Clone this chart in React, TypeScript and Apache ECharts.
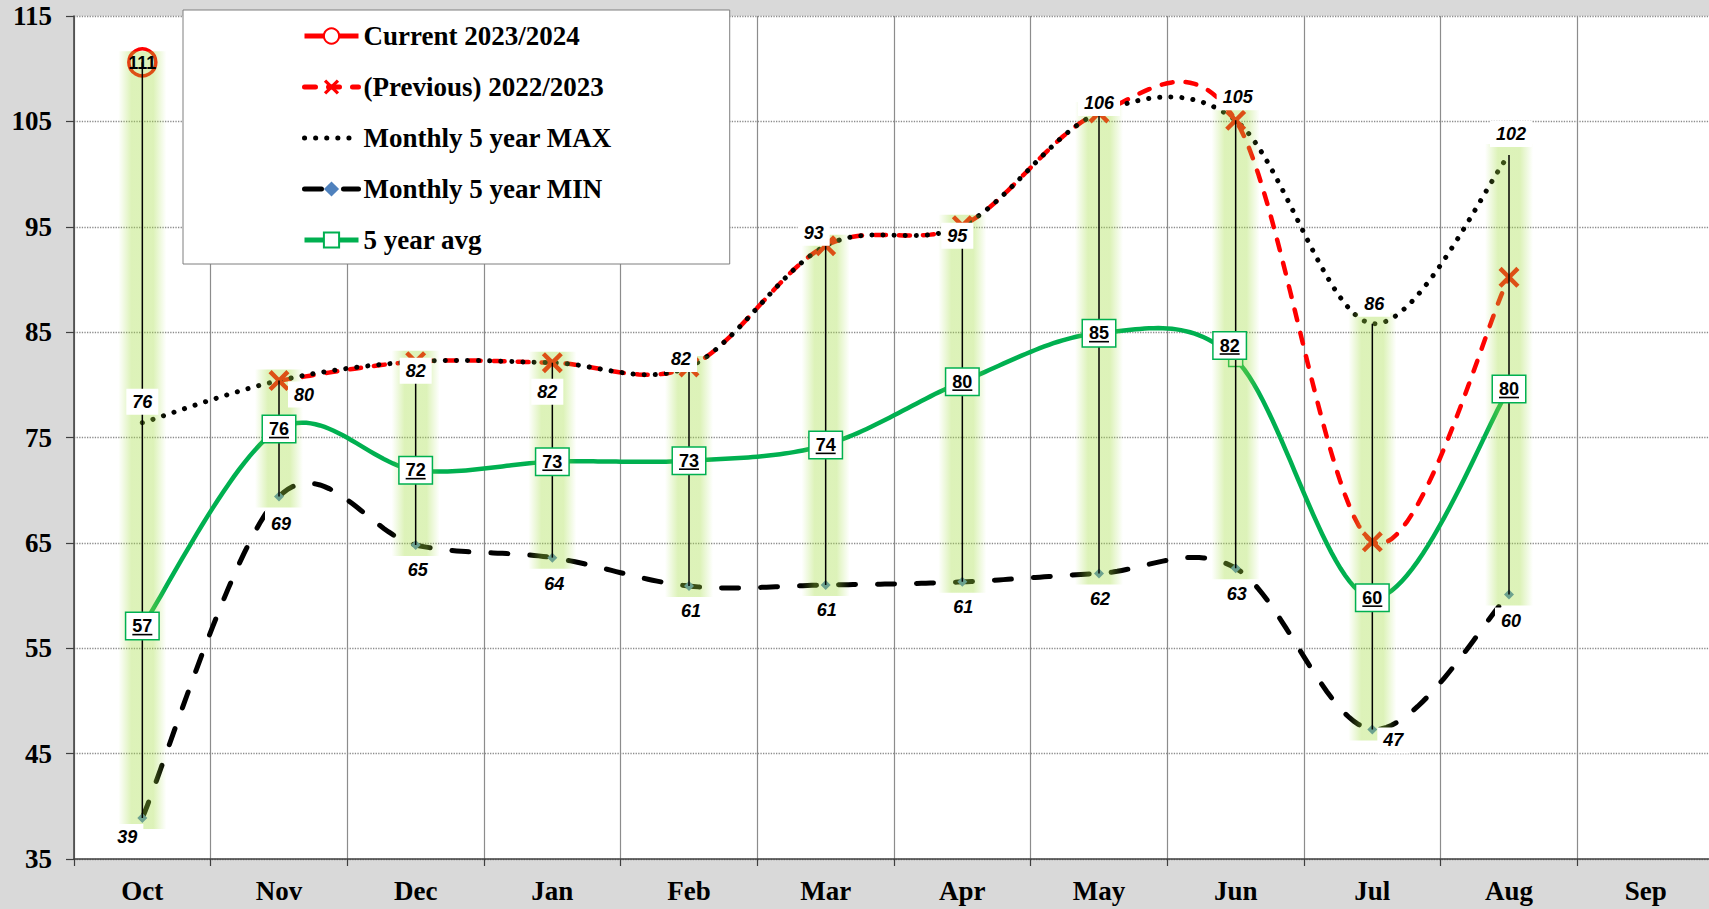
import React, { useEffect, useRef } from "react";
import * as echarts from "echarts";

const months = ["Oct", "Nov", "Dec", "Jan", "Feb", "Mar", "Apr", "May", "Jun", "Jul", "Aug", "Sep"];
const yTicks = { min: 35, max: 115, interval: 10 };

const current: (number | null)[] = [110.6, null, null, null, null, null, null, null, null, null, null, null];
const previous: (number | null)[] = [null, 80.4, 82.2, 82.1, 81.7, 93.2, 95.1, 105.8, 105.1, 65.1, 90.2, null];
const max5: (number | null)[] = [76.4, 80.4, 82.2, 82.1, 81.7, 93.2, 95.1, 105.8, 105.1, 85.8, 101.8, null];
const min5: (number | null)[] = [38.9, 69.4, 64.8, 63.6, 60.9, 61.0, 61.3, 62.1, 62.6, 47.3, 60.1, null];
const avg5: (number | null)[] = [57.1, 75.8, 71.9, 72.7, 72.8, 74.3, 80.3, 84.9, 82.4, 59.8, 79.6, null];

const maxOffsets: number[][] = [[0, -21], [25, 14], [0, 9], [-5, 29], [-8, -8], [-12, -13], [-5, 10], [0, -10], [2, -23], [2, -20], [2, -21]];
const minOffsets: number[][] = [[-15, 19], [2, 27], [2, 25], [2, 26], [2, 25], [1, 25], [1, 25], [1, 26], [1, 26], [21, 11], [2, 26]];
const avgOffsets: number[][] = [[0, 0], [0, 0], [0, 0], [0, 0], [0, 0], [0, 0], [0, 0], [0, 0], [-6, -14], [0, 0], [0, 0]];

const NAMES = ["Current 2023/2024", "(Previous) 2022/2023", "Monthly 5 year MAX", "Monthly 5 year MIN", "5 year avg"];

const toPts = (arr: (number | null)[]) =>
  arr.map((v, i) => (v == null ? null : [i, v])).filter((d) => d != null) as number[][];

const SANS = '"Liberation Sans", Arial, sans-serif';
const SERIF = '"Liberation Serif", "Times New Roman", serif';

export default function App() {
  const ref = useRef<HTMLDivElement>(null);
  useEffect(() => {
    if (!ref.current) return;
    const chart = echarts.init(ref.current, undefined, { renderer: "svg" });

    const hiLo: number[][] = [];
    for (let i = 0; i < months.length; i++) {
      const vals = [current[i], previous[i], max5[i], min5[i], avg5[i]].filter((v) => v != null) as number[];
      if (vals.length) hiLo.push([i, Math.max(...vals), Math.min(...vals)]);
    }

    const glowFill = new echarts.graphic.LinearGradient(0, 0, 1, 0, [
      { offset: 0, color: "rgba(160,220,60,0)" },
      { offset: 0.27, color: "rgba(160,220,60,0.36)" },
      { offset: 0.73, color: "rgba(160,220,60,0.36)" },
      { offset: 1, color: "rgba(160,220,60,0)" },
    ]);

    // Excel-like smoothed line (Catmull-Rom Bezier) drawn through the axis scales
    const curveSeries = (id: string, arr: (number | null)[], style: any) => ({
      type: "custom",
      id,
      z: 1,
      silent: true,
      data: toPts(arr),
      renderItem: (params: any, api: any) => {
        if (params.dataIndex !== 0) return null;
        const pts = toPts(arr).map((d) => api.coord(d));
        const out: number[][] = [];
        for (let k = 0; k < pts.length - 1; k++) {
          const p0 = pts[k - 1] || pts[k];
          const p1 = pts[k];
          const p2 = pts[k + 1];
          const p3 = pts[k + 2] || pts[k + 1];
          const c1 = [p1[0] + (p2[0] - p0[0]) / 6, p1[1] + (p2[1] - p0[1]) / 6];
          const c2 = [p2[0] - (p3[0] - p1[0]) / 6, p2[1] - (p3[1] - p1[1]) / 6];
          const steps = 30;
          for (let s = k === 0 ? 0 : 1; s <= steps; s++) {
            const t = s / steps;
            const u = 1 - t;
            out.push([
              u * u * u * p1[0] + 3 * u * u * t * c1[0] + 3 * u * t * t * c2[0] + t * t * t * p2[0],
              u * u * u * p1[1] + 3 * u * u * t * c1[1] + 3 * u * t * t * c2[1] + t * t * t * p2[1],
            ]);
          }
        }
        return { type: "polyline", shape: { points: out }, style: { fill: "none", ...style } };
      },
    });

    const labelSeries = (id: string, arr: (number | null)[], offsets: number[][], italic: boolean, boxed: boolean) => ({
      type: "custom",
      id,
      z: 6,
      silent: true,
      data: toPts(arr),
      renderItem: (params: any, api: any) => {
        const idx = api.value(0);
        const val = api.value(1);
        const p = api.coord([idx, val]);
        const off = offsets[idx] || [0, 0];
        const x = p[0] + off[0];
        const y = p[1] + off[1];
        const text = String(Math.round(val));
        const children: any[] = [
          {
            type: "text",
            x,
            y,
            style: {
              text,
              fill: "#000",
              fontFamily: SANS,
              fontSize: 18,
              fontWeight: "bold",
              fontStyle: italic ? "italic" : "normal",
              align: "center",
              verticalAlign: "middle",
              backgroundColor: "#fff",
              borderColor: boxed ? "#00b050" : undefined,
              borderWidth: boxed ? 1.5 : 0,
              padding: [4, 6, 4, 6],
            },
          },
        ];
        if (boxed) {
          const w = text.length * 10;
          children.push({
            type: "line",
            shape: { x1: x - w / 2, y1: y + 8.5, x2: x + w / 2, y2: y + 8.5 },
            style: { stroke: "#000", lineWidth: 1.6 },
          });
        }
        return { type: "group", children };
      },
    });

    const hidden = { opacity: 0 };

    const option: any = {
      animation: false,
      backgroundColor: "#d9d9d9",
      grid: { left: 74, right: 1, top: 16, bottom: 50, show: true, backgroundColor: "#fff", borderWidth: 0 },
      legend: {
        data: [
          { name: NAMES[0] },
          { name: NAMES[1] },
          { name: NAMES[2], itemStyle: { opacity: 0 } },
          { name: NAMES[3] },
          { name: NAMES[4] },
        ],
        orient: "vertical",
        left: 183,
        top: 10,
        padding: [11, 118, 9, 119],
        itemWidth: 54,
        itemHeight: 19,
        itemGap: 21,
        backgroundColor: "#fff",
        borderColor: "#7f7f7f",
        borderWidth: 1,
        selectedMode: false,
        lineStyle: { opacity: 1, width: 5 },
        textStyle: { fontFamily: SERIF, fontWeight: "bold", fontSize: 27, color: "#000", lineHeight: 30 },
      },
      xAxis: {
        type: "category",
        data: months,
        boundaryGap: true,
        axisLine: { lineStyle: { color: "#3f3f3f", width: 1.5 } },
        axisTick: { show: true, length: 7, interval: 0, lineStyle: { color: "#3f3f3f", width: 1.2 } },
        axisLabel: { interval: 0, margin: 18, fontFamily: SERIF, fontWeight: "bold", fontSize: 27, color: "#000" },
        splitLine: { show: true, interval: 0, lineStyle: { color: "#8c8c8c", width: 1.2 } },
      },
      yAxis: {
        type: "value",
        min: yTicks.min,
        max: yTicks.max,
        interval: yTicks.interval,
        axisLine: { show: true, lineStyle: { color: "#3f3f3f", width: 1.5 } },
        axisTick: { show: true, length: 8, lineStyle: { color: "#3f3f3f", width: 1.2 } },
        axisLabel: { margin: 22, fontFamily: SERIF, fontWeight: "bold", fontSize: 27, color: "#000" },
        splitLine: { show: true, lineStyle: { color: "#8c8c8c", type: "dotted", width: 1.3 } },
      },
      series: [
        {
          name: NAMES[0],
          type: "line",
          z: 2,
          data: current,
          symbol: "circle",
          symbolSize: 27,
          itemStyle: { color: "#fff", borderColor: "#ff0000", borderWidth: 3.5 },
          lineStyle: { color: "#ff0000", width: 4, ...hidden },
        },
        {
          name: NAMES[1],
          type: "line",
          z: 2,
          data: previous,
          symbol: "path://M0,3 L3,0 L10,7 L17,0 L20,3 L13,10 L20,17 L17,20 L10,13 L3,20 L0,17 L7,10 Z",
          symbolSize: 21,
          itemStyle: { color: "#ff0000" },
          lineStyle: { color: "#ff0000", width: 4.5, type: [11, 13], cap: "round", ...hidden },
        },
        {
          name: NAMES[2],
          type: "line",
          z: 2,
          data: max5,
          symbol: "none",
          itemStyle: { color: "#000" },
          lineStyle: { color: "#000", width: 5, type: [0.1, 11], cap: "round", ...hidden },
        },
        {
          name: NAMES[3],
          type: "line",
          z: 2,
          data: min5,
          symbol: "diamond",
          symbolSize: 10,
          itemStyle: { color: "#4f81bd" },
          lineStyle: { color: "#000", width: 5, type: [17, 22], cap: "round", ...hidden },
        },
        {
          name: NAMES[4],
          type: "line",
          z: 2,
          data: avg5,
          symbol: "rect",
          symbolSize: 14,
          itemStyle: { color: "#fff", borderColor: "#00b050", borderWidth: 1.5 },
          lineStyle: { color: "#00b050", width: 4.5, ...hidden },
        },
        curveSeries("avgCurve", avg5, { stroke: "#00b050", lineWidth: 4.5 }),
        curveSeries("minCurve", min5, { stroke: "#000", lineWidth: 5, lineDash: [17, 22], lineCap: "round" }),
        curveSeries("prevCurve", previous, { stroke: "#ff0000", lineWidth: 4.5, lineDash: [11, 13], lineCap: "round" }),
        curveSeries("maxCurve", max5, { stroke: "#000", lineWidth: 5, lineDash: [0.1, 11], lineCap: "round" }),
        {
          type: "custom",
          id: "hilo",
          z: 4,
          silent: true,
          data: hiLo,
          renderItem: (params: any, api: any) => {
            const i = api.value(0);
            const top = api.coord([i, api.value(1)]);
            const bot = api.coord([i, api.value(2)]);
            const w = 48;
            return {
              type: "group",
              children: [
                {
                  type: "rect",
                  shape: { x: top[0] - w / 2, y: top[1] - 11, width: w, height: bot[1] - top[1] + 22 },
                  style: { fill: glowFill },
                },
                {
                  type: "line",
                  shape: { x1: top[0], y1: top[1], x2: top[0], y2: bot[1] },
                  style: { stroke: "#000", lineWidth: 1.5 },
                },
              ],
            };
          },
        },
        labelSeries("maxLabels", max5, maxOffsets, true, false),
        labelSeries("minLabels", min5, minOffsets, true, false),
        labelSeries("avgLabels", avg5, avgOffsets, false, true),
        {
          type: "custom",
          id: "curLabel",
          z: 6,
          silent: true,
          data: toPts(current),
          renderItem: (params: any, api: any) => {
            const p = api.coord([api.value(0), api.value(1)]);
            return {
              type: "text",
              x: p[0],
              y: p[1] + 1,
              style: {
                text: String(Math.round(api.value(1))),
                fill: "#000",
                fontFamily: SANS,
                fontSize: 18,
                fontWeight: "bold",
                align: "center",
                verticalAlign: "middle",
              },
            };
          },
        },
      ],
    };
    chart.setOption(option);
    return () => chart.dispose();
  }, []);

  return (
    <div style={{ position: "fixed", left: 0, top: 0, width: 1709, height: 909, overflow: "hidden", background: "#d9d9d9" }}>
      <div ref={ref} style={{ width: 1715, height: 909 }} />
    </div>
  );
}
